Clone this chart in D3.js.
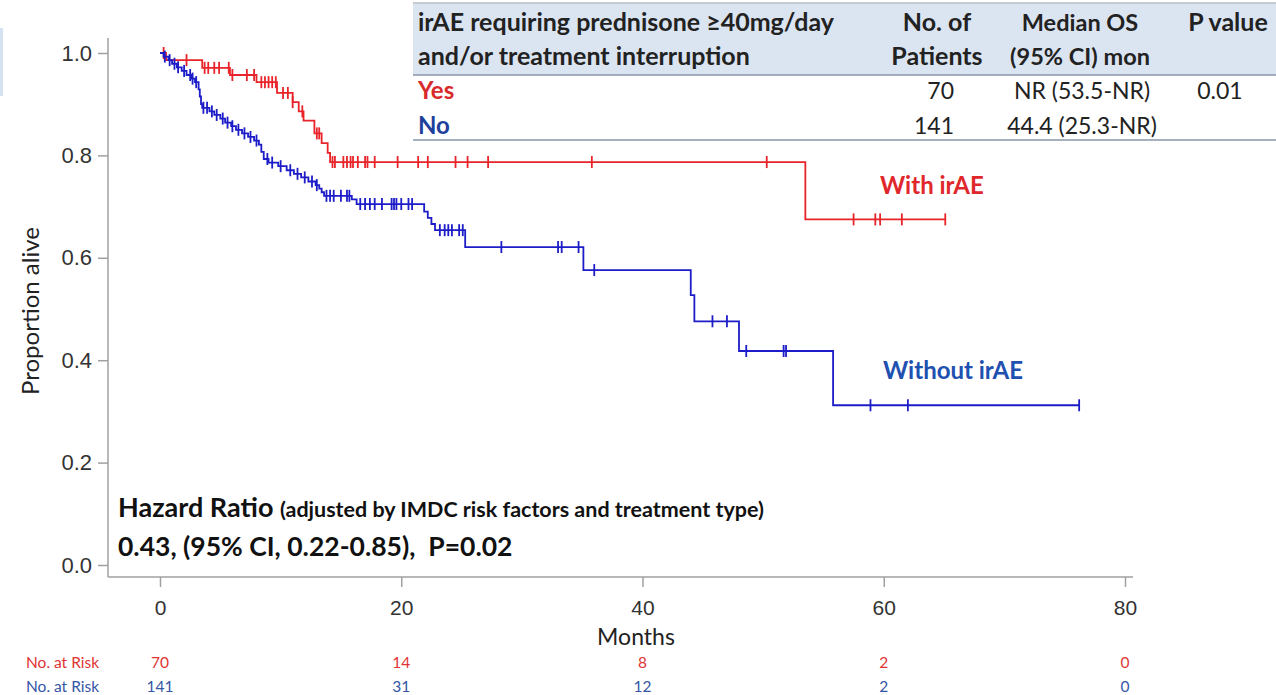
<!DOCTYPE html>
<meta charset="utf-8">
<style>
body { margin: 0; background: #fff; }
svg { font-family: Lato, "Open Sans", sans-serif; }
.axis text { font-family: "Liberation Sans", Arial, sans-serif; font-size: 22px; fill: #333; }
.axis path, .axis line { stroke: #a0a0a0; stroke-width: 1.5px; }
.curve { fill: none; stroke-width: 1.8px; }
.cens { stroke-width: 1.8px; }
</style>
<svg width="1276" height="695"></svg>
<script src="https://d3js.org/d3.v7.min.js"></script>
<script>

// KM steps: [month, survival after drop]
const redSteps = [[0,1],[0.5,0.986],[3.5,0.971],[5.8,0.957],[8.0,0.943],[9.7,0.922],[11.0,0.904],
  [11.5,0.886],[11.9,0.868],[12.8,0.843],[13.4,0.824],[13.9,0.805],[14.1,0.787],[53.5,0.675]];
const redCensor = [0.3,2.2,3.7,4.0,4.5,4.9,5.7,6.0,7.2,7.8,8.4,8.7,9.0,9.3,9.6,10.2,10.6,11.0,11.8,
  13.0,13.2,14.3,14.5,15.2,15.5,15.8,16.0,16.4,17.0,17.2,17.8,19.7,21.4,22.2,24.5,25.5,27.2,35.8,50.3,
  57.5,59.3,59.7,61.5,65.1];

const blueSteps = [[0,1],[0.3,0.993],[0.7,0.986],[1.0,0.979],[1.4,0.972],[1.8,0.965],[2.2,0.957],
  [2.6,0.950],[2.9,0.943],[3.2,0.929],[3.3,0.915],[3.4,0.900],[3.5,0.893],[4.1,0.886],[4.5,0.879],
  [5.0,0.872],[5.4,0.864],[5.9,0.857],[6.3,0.850],[6.8,0.843],[7.3,0.836],[7.8,0.829],[8.2,0.821],
  [8.4,0.807],[8.6,0.793],[9.0,0.786],[9.8,0.779],[10.5,0.771],[11.1,0.764],[11.7,0.757],[12.3,0.749],
  [12.9,0.742],[13.2,0.735],[13.4,0.728],[13.6,0.721],[15.9,0.714],[16.3,0.705],[21.9,0.690],
  [22.2,0.678],[22.5,0.666],[22.8,0.654],[25.3,0.621],[35.1,0.576],[44.0,0.527],[44.3,0.476],
  [48.0,0.418],[55.8,0.312]];
const blueCensor = [0.4,0.8,1.2,1.5,2.0,2.5,2.7,3.0,3.6,3.9,4.3,4.7,5.2,5.6,6.0,6.5,7.0,7.5,8.0,8.9,
  9.3,10.0,10.8,11.4,12.0,12.6,13.0,13.8,14.1,14.4,15.0,15.5,15.7,16.6,17.0,17.4,17.8,18.4,19.2,19.4,
  19.6,20.0,20.6,20.9,23.2,23.6,23.9,24.2,24.8,25.1,28.3,33.0,33.3,34.7,36.0,45.8,47.0,48.6,51.7,51.9,
  58.9,62.0,76.2];

const xTicks = [0, 20, 40, 60, 80];
const yTicks = [0, 0.2, 0.4, 0.6, 0.8, 1.0];
const riskRed = [70, 14, 8, 2, 0];
const riskBlue = [141, 31, 12, 2, 0];

const tableHead = [["irAE requiring prednisone \u226540mg/day", "No. of", "Median OS", "P value"],
                   ["and/or treatment interruption", "Patients", "(95% CI) mon", ""]];
const tableRows = [["Yes", "70", "NR (53.5-NR)", "0.01"], ["No", "141", "44.4 (25.3-NR)", ""]];

const RED = "#e8242a", BLUE = "#1c1cc8";

var svg = d3.select("svg");
var x = d3.scaleLinear().domain([0, 80]).range([160, 1125]);
var y = d3.scaleLinear().domain([0, 1]).range([565, 53]);

// table
svg.append("rect").attr("x", 413).attr("y", 3).attr("width", 863).attr("height", 72).attr("fill", "#dbe5f2");
[3, 75, 140].forEach(function(yy, i) {
  svg.append("line").attr("x1", 413).attr("x2", 1276).attr("y1", yy).attr("y2", yy)
    .attr("stroke", i == 0 ? "#b8bec6" : "#8a96a8").attr("stroke-width", 1.5);
});
var colX = [418, 937, 1080, 1228];
tableHead.forEach(function(row, r) {
  row.forEach(function(t, c) {
    svg.append("text").attr("x", colX[c]).attr("y", 31 + r * 34)
      .attr("text-anchor", c == 0 ? "start" : "middle")
      .attr("font-size", c == 2 ? 23.5 : 25).attr("font-weight", "bold").attr("fill", "#222").text(t);
  });
});
tableRows.forEach(function(row, r) {
  row.forEach(function(t, c) {
    svg.append("text").attr("x", c == 1 ? 954 : colX[c] + (c == 2 ? 2 : (c == 3 ? -8 : 0))).attr("y", 99 + r * 35)
      .attr("text-anchor", c == 0 ? "start" : (c == 1 ? "end" : "middle"))
      .attr("font-size", c == 0 ? 24 : 23).attr("font-weight", c == 0 ? "bold" : "normal")
      .attr("fill", c == 0 ? (r == 0 ? "#d82a2a" : "#1f3f9c") : "#222").text(t);
  });
});

// left edge remnant
svg.append("rect").attr("x", 0).attr("y", 28).attr("width", 3).attr("height", 68).attr("fill", "#d4e2f2");

// axes
var gx = svg.append("g").attr("class", "axis").attr("transform", "translate(0,577)")
  .call(d3.axisBottom(x).tickValues(xTicks).tickSize(10).tickPadding(13).tickSizeOuter(0));
gx.select(".domain").attr("d", "M108,0H1133");
gx.selectAll("text").style("font-size", "21px");

var gy = svg.append("g").attr("class", "axis").attr("transform", "translate(108,0)")
  .call(d3.axisLeft(y).tickValues(yTicks).tickFormat(d3.format(".1f")).tickSize(10).tickPadding(6).tickSizeOuter(0));
gy.select(".domain").attr("d", "M0,38V577");

svg.append("text").attr("x", 636).attr("y", 645).attr("text-anchor", "middle")
  .attr("font-size", 23).attr("fill", "#222").text("Months");
svg.append("text").attr("transform", "translate(39,311) rotate(-90)").attr("text-anchor", "middle")
  .attr("font-size", 24).attr("fill", "#222").text("Proportion alive");

// curves
function survAt(steps, t) {
  var s = 1;
  steps.forEach(function(d) { if (d[0] <= t) s = d[1]; });
  return s;
}
function drawCurve(steps, cens, color) {
  var end = d3.max(cens);
  var pts = steps.concat([[end, steps[steps.length - 1][1]]]);
  var line = d3.line().x(function(d) { return x(d[0]); }).y(function(d) { return y(d[1]); })
    .curve(d3.curveStepAfter);
  svg.append("path").datum(pts).attr("class", "curve").attr("stroke", color).attr("d", line);
  svg.selectAll(null).data(cens).enter().append("line").attr("class", "cens").attr("stroke", color)
    .attr("x1", function(d) { return x(d); }).attr("x2", function(d) { return x(d); })
    .attr("y1", function(d) { return y(survAt(steps, d)) - 6; })
    .attr("y2", function(d) { return y(survAt(steps, d)) + 6; });
}
drawCurve(redSteps, redCensor, RED);
drawCurve(blueSteps, blueCensor, BLUE);

svg.append("text").attr("x", 880).attr("y", 194).attr("font-size", 24).attr("font-weight", "bold")
  .attr("fill", "#e0282c").text("With irAE");
svg.append("text").attr("x", 883).attr("y", 379).attr("font-size", 24).attr("font-weight", "bold")
  .attr("fill", "#2050b0").text("Without irAE");

// hazard ratio
var hr = svg.append("text").attr("x", 118).attr("y", 517).attr("font-weight", "bold").attr("fill", "#111");
hr.append("tspan").attr("font-size", 27).text("Hazard Ratio ");
hr.append("tspan").attr("font-size", 21.5).text("(adjusted by IMDC risk factors and treatment type)");
svg.append("text").attr("x", 118).attr("y", 556).attr("font-weight", "bold").attr("font-size", 26.5)
  .attr("fill", "#111").attr("xml:space", "preserve").text("0.43, (95% CI, 0.22-0.85),  P=0.02");

// number at risk
[[riskRed, "#e03434", 668], [riskBlue, "#3555a5", 692]].forEach(function(r) {
  svg.append("text").attr("x", 26).attr("y", r[2]).attr("font-size", 15.5).attr("fill", r[1]).text("No. at Risk");
  svg.selectAll(null).data(r[0]).enter().append("text")
    .attr("x", function(d, i) { return x(xTicks[i]); }).attr("y", r[2])
    .attr("text-anchor", "middle").attr("font-size", 15.5).attr("fill", r[1]).text(function(d) { return d; });
});
</script>
